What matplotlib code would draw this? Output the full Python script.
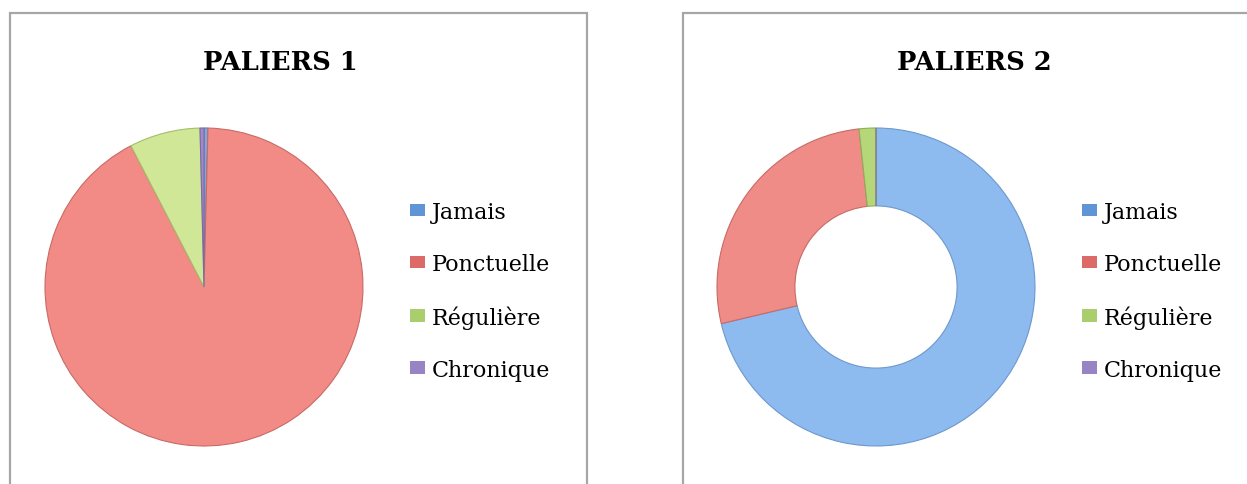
import matplotlib.pyplot as plt
from matplotlib.patches import Rectangle, Patch

labels = ['Jamais', 'Ponctuelle', 'Régulière', 'Chronique']
paliers1 = [0.4, 92.0, 7.2, 0.4]
paliers2 = [71.3, 27.0, 1.7, 0.0]

colors1 = ['#7FA8DC', '#F28B86', '#CFE797', '#A08BC8']
colors2 = ['#8DBBEF', '#EF8C88', '#B5D77A', '#A08BC8']
edge1 = ['#5A82B8', '#C86A66', '#A4BE6A', '#7E68A8']
leg_colors = ['#5F94D6', '#DC6A66', '#AACE6E', '#9884C4']

W, H = 1247, 485
fig = plt.figure(figsize=(W / 100, H / 100), dpi=100)

def fx(px):
    return px / W

def fy(py):
    return 1 - py / H

# panel borders
for x0, x1 in [(10, 587), (683, 1260)]:
    fig.patches.append(Rectangle((fx(x0), fy(500)), fx(x1 - x0), (500 - 14) / H,
                                 transform=fig.transFigure, fill=False,
                                 edgecolor='#A6A6A6', lw=1.6))

def pie_axes(cx, cy, r):
    ax = fig.add_axes([fx(cx - r), fy(cy + r), fx(2 * r), 2 * r / H])
    return ax

def fix_limits(ax):
    ax.set_xlim(-1.0, 1.0)
    ax.set_ylim(-1.0, 1.0)
    ax.set_aspect('equal')
    ax.axis('off')

ax1 = pie_axes(204, 288, 159)
w1, _ = ax1.pie(paliers1, colors=colors1, startangle=90, counterclock=False,
                radius=1.0, wedgeprops=dict(linewidth=0.8))
for w, e in zip(w1, edge1):
    w.set_edgecolor(e)
fix_limits(ax1)

ax2 = pie_axes(876, 288, 159)
w2, _ = ax2.pie(paliers2, colors=colors2, startangle=90, counterclock=False,
                radius=1.0, wedgeprops=dict(width=0.49, linewidth=0.8))
for w, e in zip(w2, ['#6E98CC', '#C86A66', '#8FAF55', '#7E68A8']):
    w.set_edgecolor(e)
fix_limits(ax2)

title_font = dict(family='DejaVu Serif', weight='bold', size=18.5)
fig.text(fx(280), fy(62), 'PALIERS 1', ha='center', va='center', **title_font)
fig.text(fx(974), fy(62), 'PALIERS 2', ha='center', va='center', **title_font)

handles = [Patch(facecolor=c, edgecolor='none') for c in leg_colors]
for lx in [410, 1082]:
    fig.legend(handles, labels, loc='upper left', bbox_to_anchor=(fx(lx), fy(202)),
               frameon=False, prop=dict(family='DejaVu Serif', size=16),
               handlelength=0.68, handleheight=0.5, handletextpad=0.3,
               labelspacing=1.35, borderpad=0, borderaxespad=0)

fig.savefig('out.png', dpi=100, facecolor='white')
